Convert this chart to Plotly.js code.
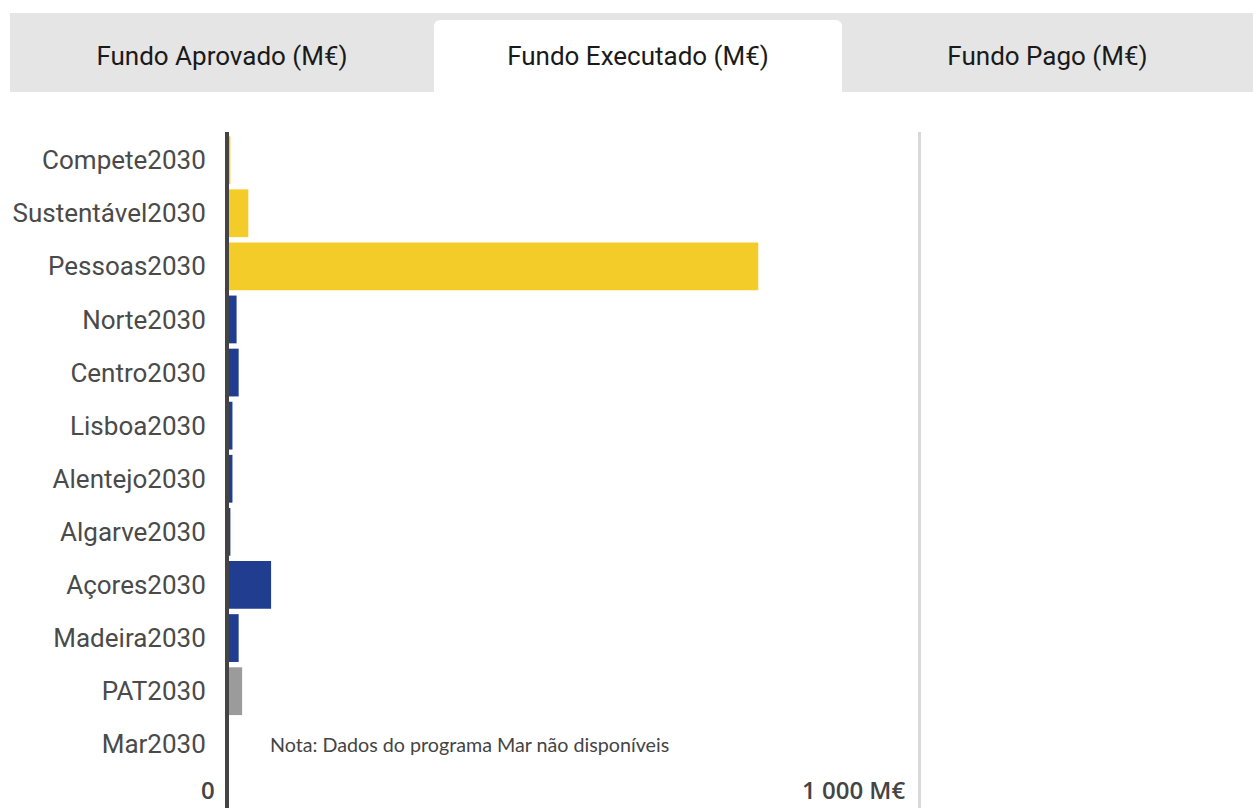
<!DOCTYPE html>
<html>
<head>
<meta charset="utf-8">
<script src="https://cdn.plot.ly/plotly-3.0.1.min.js"></script>
<style>
  html, body { margin: 0; padding: 0; background: #fff; width: 1253px; height: 808px; overflow: hidden; }
  #tabs { position: absolute; left: 10px; top: 13px; width: 1243px; height: 79px; background: #e5e5e5; }
  .tab { position: absolute; top: 0; height: 79px; padding-top: 7px; box-sizing: border-box;
         display: flex; align-items: center; justify-content: center;
         font-family: Roboto, sans-serif; font-size: 26px; color: #1a1a1a; }
  .tab.active { background: #fff; top: 7px; height: 72px; padding-top: 0; border-radius: 6px 6px 0 0; }
  #chart { position: absolute; left: 0; top: 0; width: 1253px; height: 808px; }
</style>
</head>
<body>
<div id="chart"></div>
<div id="tabs">
  <div class="tab" style="left:0;width:424px;">Fundo Aprovado (M€)</div>
  <div class="tab active" style="left:424px;width:408px;">Fundo Executado (M€)</div>
  <div class="tab" style="left:832px;width:411px;">Fundo Pago (M€)</div>
</div>
<script>
// Data
const categories = ["Compete2030","Sustentável2030","Pessoas2030","Norte2030","Centro2030","Lisboa2030",
                    "Alentejo2030","Algarve2030","Açores2030","Madeira2030","PAT2030","Mar2030"];
const values = [2, 28, 767, 11, 14, 5, 5, 2, 61, 14, 19, 0];
const groups = ["tematico","tematico","tematico","regional","regional","regional",
                "regional","regional","regional","regional","assistencia","tematico"];
const tickValues = [0, 1000];
const tickLabels = ["0", "1 000 M€"];
const note = "Nota: Dados do programa Mar não disponíveis";

// Styles
const groupColors = { tematico: "#f4cc2a", regional: "#213d8f", assistencia: "#9b9b9b" };

const trace = {
  type: "bar",
  orientation: "h",
  y: categories,
  x: values,
  marker: { color: groups.map(g => groupColors[g]) },
  hoverinfo: "none",
  width: 0.9
};

const tickAnnotations = tickValues.map((v, i) => ({
  text: tickLabels[i],
  x: v, xref: "x", y: 0, yref: "paper",
  xanchor: "right", yanchor: "bottom", xshift: -12, yshift: 0,
  showarrow: false,
  font: { family: "'Open Sans', sans-serif", size: 24, weight: 600, color: "#444" }
}));

const layout = {
  width: 1253,
  height: 808,
  margin: { l: 229, r: 0, t: 132, b: 0, pad: 0 },
  paper_bgcolor: "rgba(0,0,0,0)",
  plot_bgcolor: "rgba(0,0,0,0)",
  showlegend: false,
  xaxis: {
    range: [0, 1484],
    tickvals: tickValues,
    showticklabels: false,
    showgrid: true,
    gridcolor: "#d9d9d9",
    gridwidth: 3,
    zeroline: false,
    showline: false,
    ticks: "",
    fixedrange: true
  },
  yaxis: {
    type: "category",
    range: [12.2, -0.53],
    showline: true,
    linecolor: "#444",
    linewidth: 4,
    showgrid: false,
    zeroline: false,
    ticks: "outside",
    ticklen: 14,
    tickcolor: "rgba(0,0,0,0)",
    tickfont: { family: "Roboto, sans-serif", size: 26, color: "#4a4a4a" },
    fixedrange: true
  },
  annotations: tickAnnotations.concat([{
    text: note,
    x: 57, y: "Mar2030", xref: "x", yref: "y",
    xanchor: "left", yanchor: "middle", showarrow: false,
    font: { family: "Lato, sans-serif", size: 19.7, color: "#444" }
  }])
};

Plotly.newPlot("chart", [trace], layout, { displayModeBar: false, staticPlot: true });
</script>
</body>
</html>
